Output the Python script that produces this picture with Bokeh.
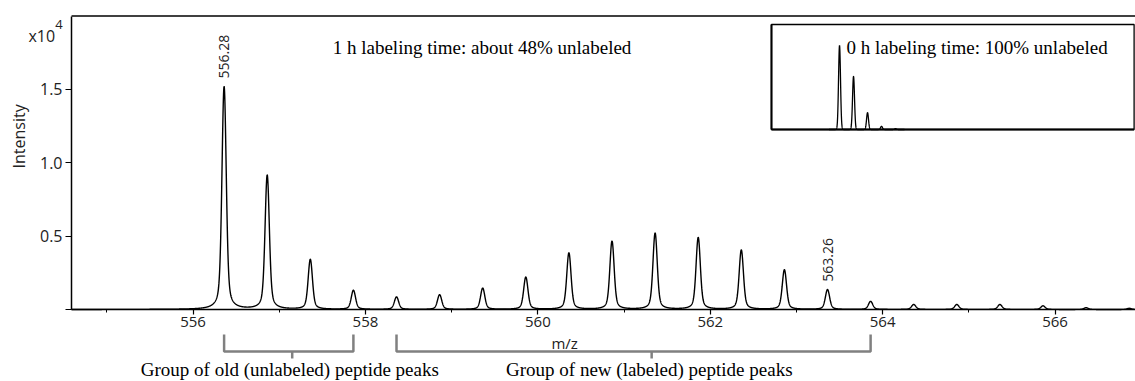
import numpy as np
from math import pi
from bokeh.plotting import figure
from bokeh.models import Range1d, FixedTicker, Label
from bokeh.core.properties import value
from bokeh.embed import file_html
from bokeh.resources import INLINE

# ---------------- data ----------------
peak_mz = [556.36, 556.86, 557.36, 557.86, 558.36, 558.86, 559.36, 559.86,
           560.36, 560.86, 561.36, 561.86, 562.36, 562.86, 563.36, 563.86,
           564.36, 564.86, 565.36, 565.86, 566.36, 566.86]
peak_int = [15200, 9150, 3400, 1300, 850, 1000, 1450, 2200,
            3850, 4650, 5200, 4900, 4050, 2700, 1350, 550,
            340, 340, 340, 250, 120, 80]

annot_text = ["556.28", "563.26"]
annot_mz = [556.36, 563.36]
annot_int = [15200, 1350]

inset_mz = [556.28, 556.78, 557.28, 557.78, 558.28]
inset_int = [80, 50.5, 16, 3, 0.8]

group_text = ["Group of old (unlabeled)  peptide peaks",
              "Group of new (labeled)  peptide peaks"]
group_start = [556.36, 558.36]
group_end = [557.86, 563.86]
group_mid = [557.15, 561.32]

x_ticks = [556, 558, 560, 562, 564, 566]
x_minor = [555, 557, 559, 561, 563, 565]
y_ticks = [0, 5000, 10000, 15000]
y_tick_labels = ["", "0.5", "1.0", "1.5"]

main_title = "1 h labeling  time:  about 48% unlabeled"
inset_title = "0 h labeling  time:  100% unlabeled"

X0, X1 = 554.59, 566.93     # visible m/z span of the axes
YTOP = 20000                # top of the intensity axis


def profile(x, centers, heights, sigma, gamma, eta):
    y = np.zeros_like(x)
    for c, h in zip(centers, heights):
        d = x - c
        y += h * ((1 - eta) * np.exp(-0.5 * (d / sigma) ** 2) + eta / (1 + (d / gamma) ** 2))
    return y


SANS = "Open Sans"
SERIF = "Liberation Serif"
TXT = "#222222"

p = figure(width=1135, height=381,
           x_range=Range1d(553.766, 566.933), y_range=Range1d(-4908, 21063),
           output_backend="svg", toolbar_location=None, min_border=0)
p.outline_line_color = None
p.grid.visible = False
p.background_fill_color = "white"
p.border_fill_color = "white"

# x axis placed at intensity 0
xa = p.xaxis[0]
xa.fixed_location = 0
xa.bounds = (X0, X1)
xa.ticker = FixedTicker(ticks=x_ticks, minor_ticks=x_minor)
xa.axis_line_width = 1.5
xa.axis_line_color = "black"
xa.major_tick_out = 5
xa.major_tick_in = 0
xa.minor_tick_out = 3
xa.minor_tick_in = 0
xa.major_tick_line_width = 1.2
xa.major_label_text_font = SANS
xa.major_label_text_font_size = "15px"
xa.major_label_text_color = TXT
xa.major_label_standoff = 3

# y axis placed at the left end of the m/z span
ya = p.yaxis[0]
ya.fixed_location = X0
ya.bounds = (0, YTOP)
ya.ticker = FixedTicker(ticks=y_ticks)
ya.major_label_overrides = {t: l for t, l in zip(y_ticks, y_tick_labels)}
ya.axis_line_width = 1.5
ya.axis_line_color = "black"
ya.major_tick_out = 6
ya.major_tick_in = 0
ya.minor_tick_line_color = None
ya.major_label_text_font = SANS
ya.major_label_text_font_size = "16px"
ya.major_label_text_color = TXT
ya.major_label_standoff = 3

# y axis title
p.add_layout(Label(x=553.975, y=11800, text="Intensity", angle=pi / 2, text_font=SANS,
                   text_font_size="16px", text_color=TXT, text_align="center",
                   text_baseline="middle"))

# top border of the axes box
p.segment(x0=[X0], y0=[YTOP], x1=[X1], y1=[YTOP], line_color="black", line_width=1.5)

# main spectrum
xg = np.linspace(X0, X1, 6200)
yg = profile(xg, peak_mz, peak_int, 0.024, 0.035, 0.35)
p.line(xg, yg, line_color="black", line_width=1.4)

# peak annotations
p.text(x=annot_mz, y=annot_int, text=annot_text, angle=pi / 2,
       text_align="left", text_baseline="middle", y_offset=-8,
       text_font=value(SANS), text_font_size="14px", text_color=TXT)

# exponent label
p.add_layout(Label(x=554.09, y=18677, text="x10", text_font=SANS, text_font_size="16px",
                   text_color=TXT, text_baseline="alphabetic"))
p.add_layout(Label(x=554.40, y=19430, text="4", text_font=SANS, text_font_size="13px",
                   text_color=TXT, text_baseline="alphabetic"))

p.add_layout(Label(x=557.62, y=17860, text=main_title, text_font=SERIF,
                   text_font_size="19px", text_color="black", text_baseline="alphabetic"))

# m/z label
p.add_layout(Label(x=560.31, y=-2250, text="m/z", text_font=SANS, text_font_size="15px",
                   text_color=TXT, text_align="center", text_baseline="middle"))

# group brackets
B_TOP, B_MID, B_TICK, B_TEXT = -1700, -2860, -3340, -4080
bx, by = [], []
for s, e, m in zip(group_start, group_end, group_mid):
    bx.append([s, s, e, e]); by.append([B_TOP, B_MID, B_MID, B_TOP])
    bx.append([m, m]); by.append([B_MID, B_TICK])
p.multi_line(bx, by, line_color="#808080", line_width=2.5)
for t, m in zip(group_text, group_mid):
    p.add_layout(Label(x=m, y=B_TEXT, text=t, text_font=SERIF, text_font_size="19px",
                       text_color="black", text_align="center", text_baseline="middle"))

# inset (own ranges)
p.extra_x_ranges = {"ix": Range1d(526.316, 566.85)}
p.extra_y_ranges = {"iy": Range1d(-240, 122.86)}
IX0, IX1, IY1 = 553.85, 566.8, 100
p.quad(left=IX0, right=IX1, bottom=0, top=IY1, fill_color="white",
       line_color="black", line_width=1.3, x_range_name="ix", y_range_name="iy")
p.segment(x0=[IX0, IX0], y0=[0, 0], x1=[IX0, IX1], y1=[IY1, 0],
          line_color="black", line_width=2, x_range_name="ix", y_range_name="iy")
ixg = np.linspace(555.9, 558.6, 1500)
iyg = profile(ixg, inset_mz, inset_int, 0.035, 0.05, 0.0)
p.line(ixg, iyg, line_color="black", line_width=1.3, x_range_name="ix", y_range_name="iy")
p.add_layout(Label(x=556.53, y=78, text=inset_title, text_font=SERIF, text_font_size="19px",
                   text_color="black", text_baseline="alphabetic",
                   x_range_name="ix", y_range_name="iy"))

open("out.html", "w").write(file_html(p, INLINE))
